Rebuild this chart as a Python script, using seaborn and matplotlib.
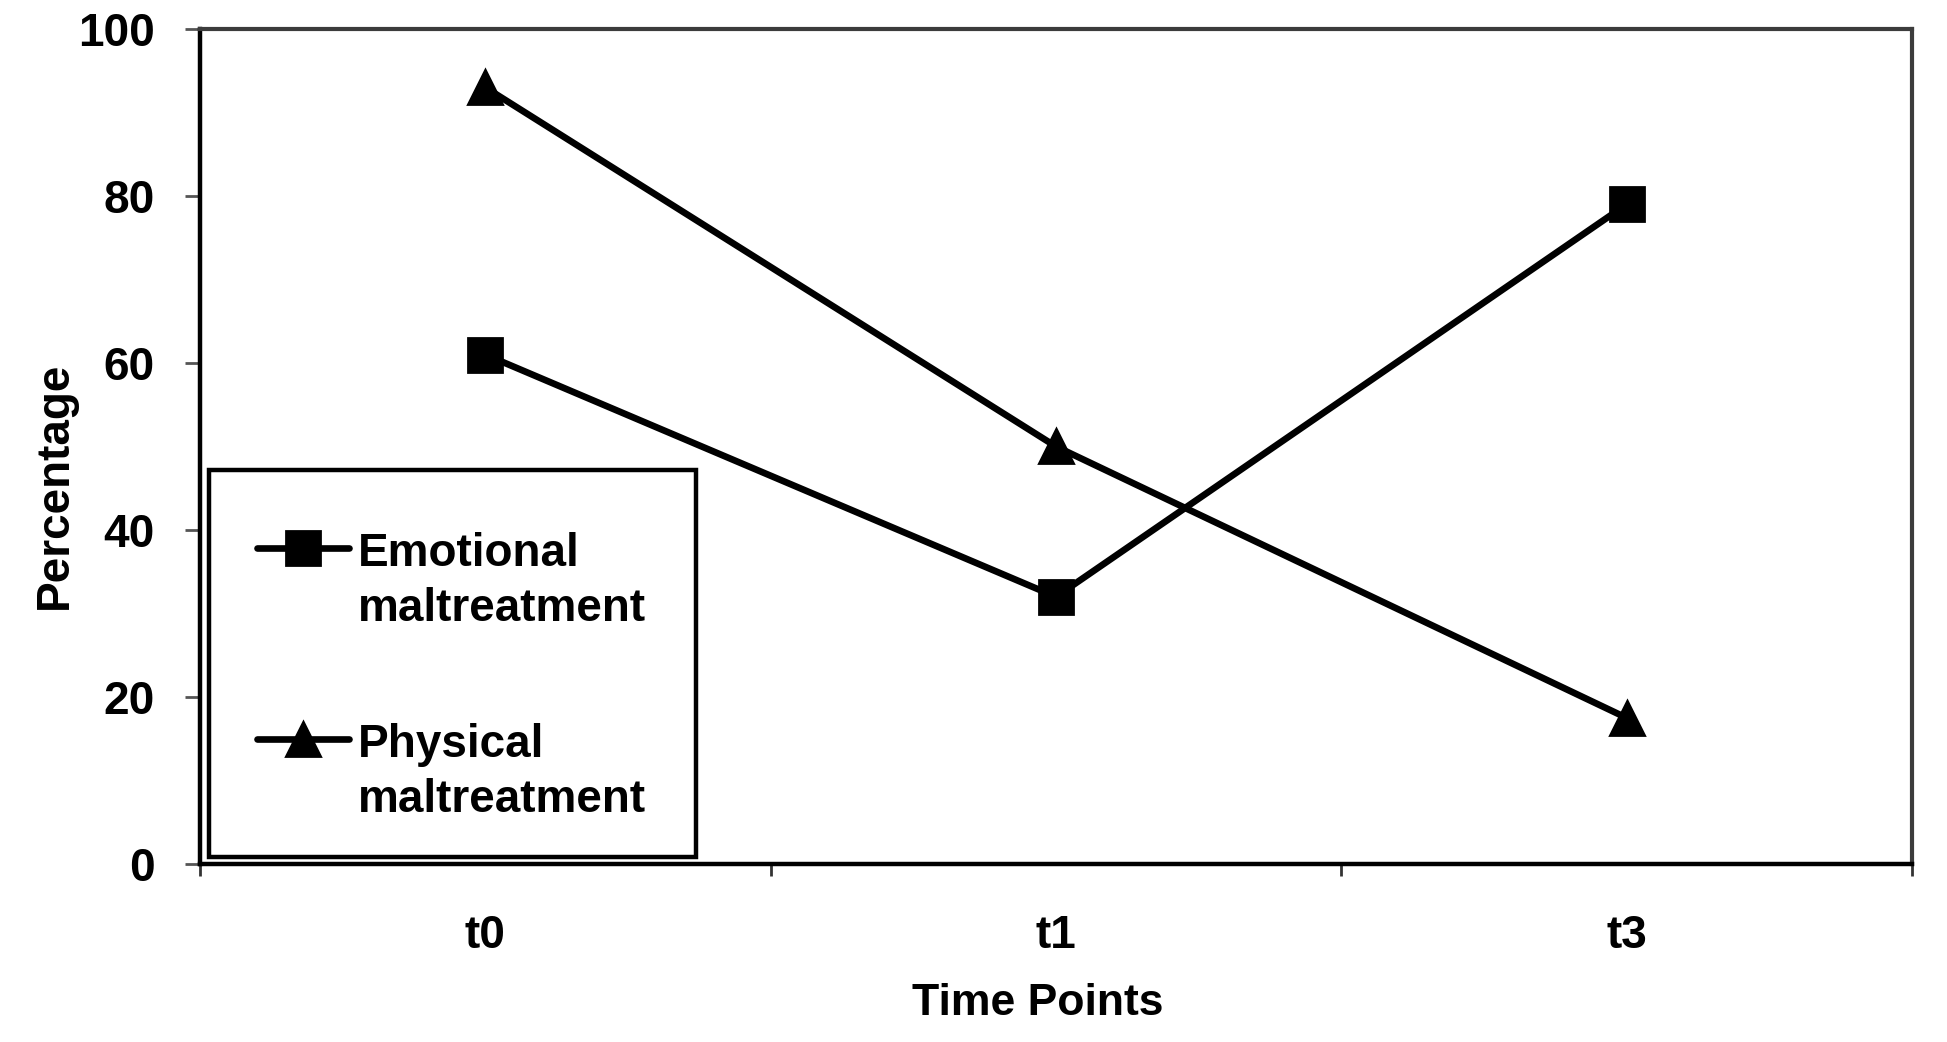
import numpy as np
import pandas as pd
import matplotlib
matplotlib.use("Agg")
import matplotlib.pyplot as plt
from matplotlib.patches import Rectangle
from matplotlib.legend_handler import HandlerLine2D
import seaborn as sns

# ---- data ----
time_points = ["t0", "t1", "t3"]
series_names = ["Emotional\nmaltreatment", "Physical\nmaltreatment"]
emotional = [61, 32, 79]
physical = [93, 50, 17.5]
y_ticks = [0, 20, 40, 60, 80, 100]

df = pd.DataFrame({
    "Time": time_points * 2,
    "Percentage": emotional + physical,
    "Series": [series_names[0]] * 3 + [series_names[1]] * 3,
})

sns.set_theme(style="white")
plt.rcParams["font.family"] = ["Liberation Sans", "DejaVu Sans"]
plt.rcParams["font.weight"] = "bold"

fig = plt.figure(figsize=(19.47, 10.42), dpi=100)
ax = fig.add_axes([0.1027, 0.1708, 0.982 - 0.1027, 0.9722 - 0.1708])

sns.lineplot(data=df, x="Time", y="Percentage", style="Series",
             markers=["s", "^"], dashes=False, color="black",
             linewidth=4.8, markersize=24, markeredgewidth=2,
             markeredgecolor="black", markerfacecolor="black",
             legend=False, ax=ax, sort=False)

ax.set_xlim(-0.5, 2.5)
ax.set_ylim(0, 100)
ax.set_yticks(y_ticks)
ax.set_yticklabels([str(v) for v in y_ticks], fontsize=33, fontweight="bold")
ax.set_xticks(range(len(time_points)))
ax.set_xticklabels(time_points, fontsize=33, fontweight="bold")
ax.set_xticks([-0.5, 0.5, 1.5, 2.5], minor=True)

ax.tick_params(axis="y", which="major", direction="out", length=10.8,
               width=2, color="#555555", pad=22, labelcolor="black", left=True)
ax.tick_params(axis="x", which="major", length=0, pad=36, labelcolor="black",
               bottom=True)
ax.tick_params(axis="x", which="minor", direction="out", length=8.6,
               width=2, color="#333333", bottom=True)

for side in ["left", "bottom"]:
    ax.spines[side].set_color("black")
    ax.spines[side].set_linewidth(3.2)
for side in ["top", "right"]:
    ax.spines[side].set_color("#3c3c3c")
    ax.spines[side].set_linewidth(3)
    ax.spines[side].set_visible(True)

ax.set_xlabel("Time Points", fontsize=32, fontweight="bold", color="black")
ax.xaxis.set_label_coords(0.4895, -0.142)
ax.set_ylabel("Percentage", fontsize=33, fontweight="bold", color="black")
ax.yaxis.set_label_coords(-0.072, 0.454)
ax.grid(False)

# legend box
ax.add_patch(Rectangle((0.0053, 0.0084), 0.2844, 0.4635, transform=ax.transAxes,
                       facecolor="white", edgecolor="black", linewidth=3.2,
                       zorder=4, clip_on=False))


class UpHandler(HandlerLine2D):
    def create_artists(self, legend, orig_handle, xdescent, ydescent,
                       width, height, fontsize, trans):
        arts = super().create_artists(legend, orig_handle, xdescent, ydescent,
                                      width, height, fontsize, trans)
        for a in arts:
            a.set_ydata(np.asarray(a.get_ydata()) + 0.75 * fontsize)
        return arts


handles = list(ax.lines[:2])
leg = ax.legend(handles, series_names, loc="upper left",
                bbox_to_anchor=(0.0333, 0.3976), frameon=False,
                borderpad=0, borderaxespad=0, handlelength=2.0,
                handletextpad=0.2, labelspacing=2.0,
                prop={"size": 33, "weight": "bold"},
                handler_map={h: UpHandler() for h in handles})
leg.set_zorder(6)
for t in leg.get_texts():
    t.set_linespacing(1.33)
    t.set_color("black")

fig.savefig("out.png", dpi=100, facecolor="white")
